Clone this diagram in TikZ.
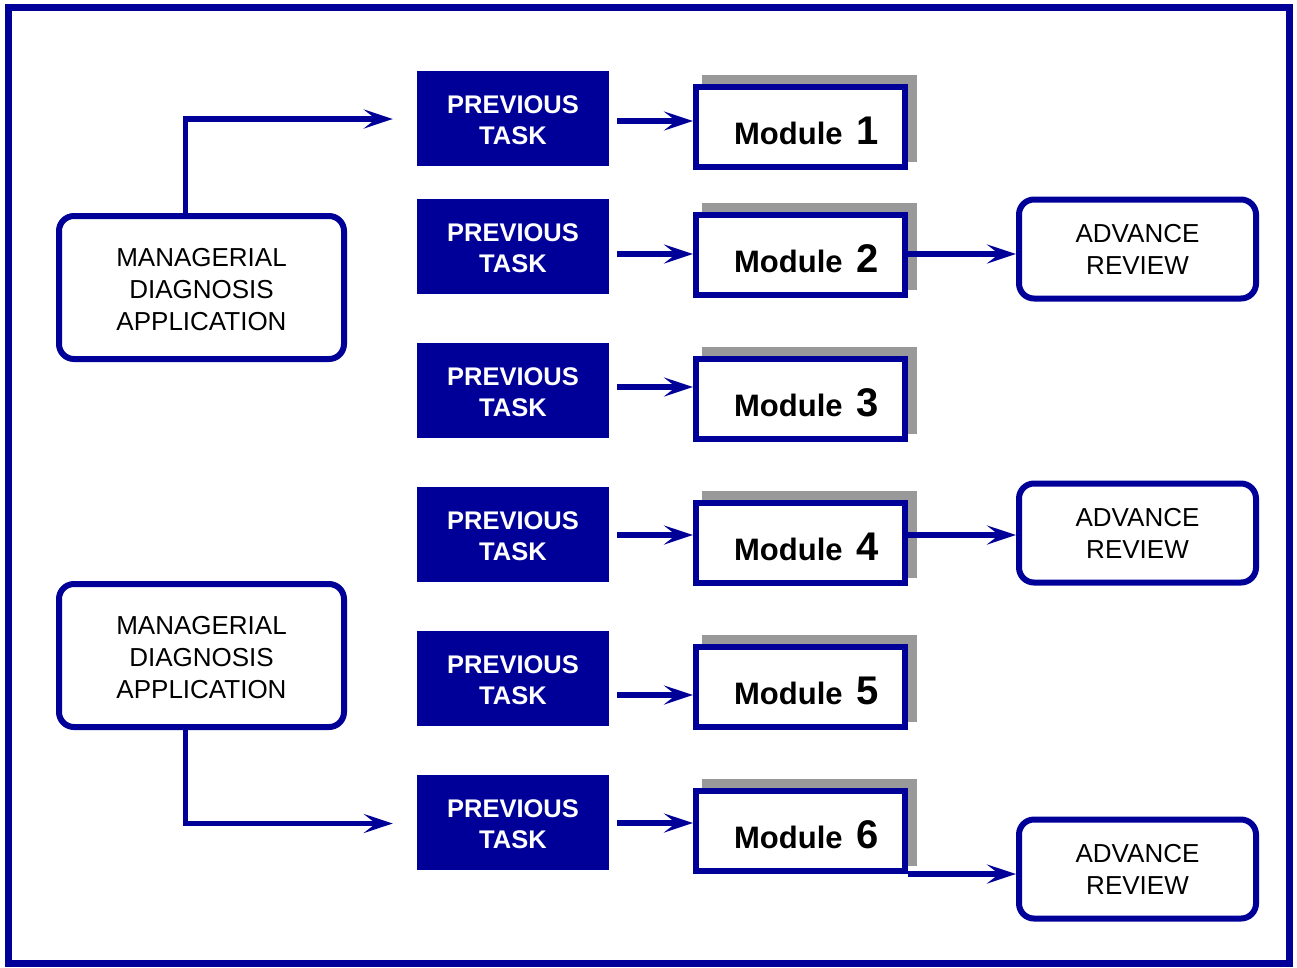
\documentclass[tikz,border=0pt]{standalone}
\usepackage{fontspec}
\setmainfont{Liberation Sans}
\usetikzlibrary{arrows.meta,backgrounds,calc}
\definecolor{dblue}{RGB}{0,0,153}
\definecolor{shadowgray}{RGB}{153,153,153}
\begin{document}
\begin{tikzpicture}[x=1pt,y=-1pt,
  arr/.style={draw=dblue,line width=5.5pt,-{Stealth[length=29pt,width=19pt,inset=12pt]}},
  mda/.style={draw=dblue,line width=6pt,rounded corners=15pt,fill=white,minimum width=285pt,minimum height=143pt,inner sep=0pt,align=center,font=\fontsize{26}{32}\selectfont},
  prevbox/.style={fill=dblue,text=white,minimum width=192pt,minimum height=95pt,inner sep=0pt,align=center,font=\fontsize{25.5}{31}\selectfont\bfseries},
  modbox/.style={draw=dblue,line width=6pt,fill=white,minimum width=209pt,minimum height=80pt,inner sep=0pt},
  modtext/.style={anchor=base,inner sep=0pt,font=\fontsize{31}{31}\selectfont\bfseries},
  advbox/.style={draw=dblue,line width=6pt,rounded corners=15pt,fill=white,minimum width=237pt,minimum height=99pt,inner sep=0pt,align=center,font=\fontsize{26}{32}\selectfont},
  shadowfill/.style={fill=shadowgray}
]
\useasboundingbox (0,0) rectangle (1297,967);
\draw[dblue,line width=7pt] (8.5,7) rectangle (1289.5,963.5);

% managerial boxes
\node[mda] (md1) at (201.5,287.5) {\rule{0pt}{22pt}MANAGERIAL\\DIAGNOSIS\\APPLICATION};
\node[mda] (md2) at (201.5,655.5) {\rule{0pt}{22pt}MANAGERIAL\\DIAGNOSIS\\APPLICATION};

% previous task boxes
\node[prevbox] (p1) at (513,118.5) {\rule{0pt}{21pt}PREVIOUS\\TASK};
\node[prevbox] (p2) at (513,246.5) {\rule{0pt}{21pt}PREVIOUS\\TASK};
\node[prevbox] (p3) at (513,390.5) {\rule{0pt}{21pt}PREVIOUS\\TASK};
\node[prevbox] (p4) at (513,534.5) {\rule{0pt}{21pt}PREVIOUS\\TASK};
\node[prevbox] (p5) at (513,678.5) {\rule{0pt}{21pt}PREVIOUS\\TASK};
\node[prevbox] (p6) at (513,822.5) {\rule{0pt}{21pt}PREVIOUS\\TASK};

% module boxes
\node[modbox] (m1) at (800.5,127) {};
\node[modbox] (m2) at (800.5,255) {};
\node[modbox] (m3) at (800.5,399) {};
\node[modbox] (m4) at (800.5,543) {};
\node[modbox] (m5) at (800.5,687) {};
\node[modbox] (m6) at (800.5,831) {};
\foreach \i/\yy in {1/144,2/272,3/416,4/560,5/704,6/848}{
  \node[modtext] (mt\i) at (806.5,\yy) {Module\hspace{14pt}{\fontsize{40}{40}\selectfont\i}};
}
\begin{scope}[on background layer]
\foreach \i in {1,...,6}{
  \fill[shadowfill] ([shift={(9,-9)}]m\i.north west) rectangle ([shift={(9,-8)}]m\i.south east);
}
\end{scope}

% advance review boxes
\node[advbox] (a2) at (1137.5,249) {ADVANCE\\REVIEW};
\node[advbox] (a4) at (1137.5,533) {ADVANCE\\REVIEW};
\node[advbox] (a6) at (1137.5,869) {ADVANCE\\REVIEW};

% connectors from managerial boxes
\coordinate (t1) at ($(p1.west)+(-24,0.5)$);
\coordinate (t6) at ($(p6.west)+(-24,1)$);
\draw[arr] (md1.north -| 185.5,0) |- (t1);
\draw[arr] (md2.south -| 185.5,0) |- (t6);

% previous -> module
\foreach \i/\yy in {1/121,2/254,3/387,4/535,5/695,6/823}{
  \draw[arr,shorten <=8pt] (p\i.east |- 0,\yy) -- (m\i.west |- 0,\yy);
}

% module -> advance review
\draw[arr] (m2.east |- 0,254) -- (a2.west |- 0,254);
\draw[arr] (m4.east |- 0,535) -- (a4.west |- 0,535);
\draw[arr] (m6.east |- 0,874) -- (a6.west |- 0,874);
\end{tikzpicture}
\end{document}
